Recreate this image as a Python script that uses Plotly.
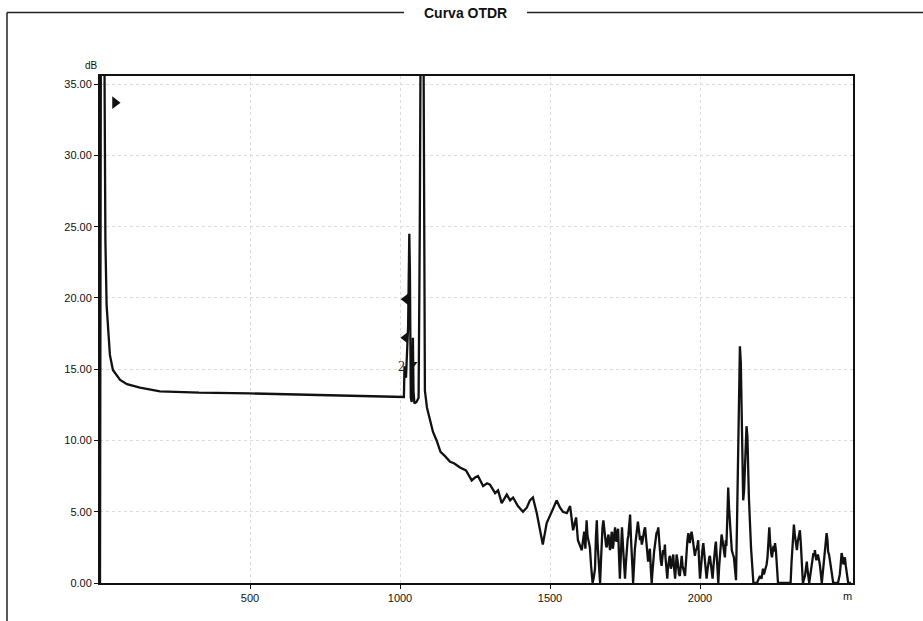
import plotly.graph_objects as go

# ---- data (distance in m, level in dB) ----
launch_m = [0, 3, 14, 18, 22, 27, 33, 43, 55, 67, 90, 133, 200, 330, 500, 600, 700, 760, 850, 930, 1000, 1012]
launch_db = [0, 40, 40, 24, 19.5, 17.5, 16.0, 14.95, 14.6, 14.25, 13.95, 13.7, 13.45, 13.35, 13.3, 13.25, 13.2, 13.15, 13.1, 13.08, 13.05, 13.05]

event_m = [1013, 1015, 1020, 1027, 1031, 1033, 1036, 1039, 1041, 1043, 1045, 1048, 1055, 1062, 1066, 1069, 1078, 1081, 1083, 1090, 1100]
event_db = [13.05, 15.2, 14.4, 18.0, 24.5, 22.0, 13.0, 12.7, 16.5, 17.2, 13.5, 12.6, 12.7, 13.0, 25.0, 40.0, 40.0, 20.0, 13.5, 12.3, 11.4]

decay_m = [1110, 1122, 1135, 1150, 1167, 1180, 1200, 1220, 1239, 1250, 1260, 1277, 1290, 1300, 1317,
           1327, 1339, 1356, 1367, 1377, 1393, 1410, 1423, 1433, 1443, 1456, 1463, 1476, 1489, 1500,
           1510, 1522, 1533, 1543, 1556, 1567, 1577, 1587, 1593, 1606]
decay_db = [10.6, 10.0, 9.2, 8.9, 8.5, 8.4, 8.1, 7.9, 7.2, 7.4, 7.5, 6.8, 7.0, 6.9, 6.3,
            6.5, 5.6, 6.2, 5.8, 6.0, 5.4, 5.0, 5.3, 5.8, 6.0, 4.9, 4.2, 2.7, 4.2, 4.8,
            5.2, 5.8, 5.3, 5.0, 4.9, 5.4, 3.7, 4.6, 3.0, 2.3]

noise_m = [1610, 1614, 1618, 1622, 1625, 1628, 1633, 1637, 1642, 1646, 1650, 1653, 1656, 1659, 1661,
           1664, 1667, 1670, 1672, 1675, 1678, 1681, 1684, 1687, 1689, 1692, 1695, 1698, 1700, 1703,
           1706, 1709, 1711, 1714, 1717, 1720, 1722, 1725, 1727, 1730, 1733, 1737, 1740, 1743, 1745,
           1748, 1750, 1753, 1756, 1759, 1761, 1764, 1767, 1770, 1772, 1775, 1777, 1780, 1783, 1786,
           1788, 1791, 1793, 1797, 1800, 1803, 1806, 1809, 1811, 1814, 1817, 1820, 1822, 1825, 1827,
           1830, 1833, 1836, 1839, 1842, 1844, 1847, 1850, 1853, 1855, 1858, 1861, 1864, 1866, 1869,
           1872, 1875, 1877, 1880, 1883, 1885, 1887, 1889, 1891, 1893, 1895, 1898, 1900, 1903, 1905,
           1908, 1911, 1913, 1914, 1916, 1917, 1920, 1922, 1925, 1927, 1930, 1933, 1936, 1939, 1942,
           1945, 1948, 1950, 1953, 1955, 1958, 1961, 1964, 1966, 1969, 1972, 1975, 1978, 1981, 1983,
           1986, 1989, 1992, 1994, 1997, 2000, 2003, 2005, 2008, 2011, 2014, 2016, 2019, 2022, 2025,
           2028, 2031, 2033, 2036, 2038, 2040, 2042, 2045, 2048, 2051, 2053, 2056, 2058, 2061, 2064,
           2067, 2070, 2072, 2075, 2078, 2081, 2083, 2086, 2088, 2091, 2094, 2097, 2100, 2103, 2106,
           2110, 2113, 2117, 2120, 2124, 2128, 2131, 2133, 2136, 2139, 2144, 2147, 2150, 2155, 2158,
           2163, 2170, 2178, 2190, 2200, 2205, 2210, 2213, 2216, 2219, 2222, 2225, 2227, 2229, 2231,
           2234, 2236, 2238, 2240, 2243, 2245, 2248, 2250, 2253, 2255, 2260, 2280, 2302, 2305, 2308,
           2311, 2313, 2316, 2318, 2321, 2323, 2326, 2328, 2331, 2333, 2336, 2338, 2343, 2350, 2353,
           2356, 2358, 2360, 2364, 2372, 2375, 2378, 2381, 2383, 2386, 2388, 2391, 2393, 2397, 2400,
           2406, 2414, 2418, 2422, 2425, 2427, 2430, 2433, 2436, 2438, 2444, 2460, 2466, 2469, 2472,
           2475, 2478, 2481, 2483, 2486, 2489, 2494, 2503]
noise_db = [3.0, 3.6, 2.4, 4.4, 3.3, 3.0, 2.5, 1.2, 0.0, 0.4, 1.0, 3.2, 4.4, 2.6, 2.0,
            0.8, 0.0, 1.6, 2.8, 3.9, 4.4, 3.5, 3.2, 2.6, 2.5, 3.1, 3.4, 2.7, 2.3, 3.0,
            3.6, 2.4, 2.6, 3.4, 3.9, 3.0, 2.9, 3.6, 3.8, 1.9, 0.3, 2.4, 3.9, 2.7, 2.1,
            0.9, 0.3, 1.4, 2.5, 3.1, 3.3, 4.2, 4.8, 3.1, 2.5, 1.0, 0.0, 1.5, 2.4, 3.0,
            3.5, 3.9, 4.3, 3.6, 3.0, 3.3, 2.7, 3.0, 3.4, 3.7, 3.9, 3.1, 2.6, 2.0, 1.5,
            2.0, 2.4, 1.0, 0.0, 0.9, 1.6, 2.2, 2.7, 3.3, 3.5, 3.6, 3.9, 3.0, 2.0, 1.6,
            1.2, 1.9, 2.3, 2.0, 2.7, 1.8, 1.0, 0.5, 0.3, 1.0, 1.5, 1.8, 1.9, 1.0, 1.2,
            1.8, 2.0, 1.2, 0.8, 0.4, 0.3, 1.2, 2.0, 1.6, 1.0, 0.6, 0.5, 1.4, 1.9, 1.2,
            1.0, 0.7, 0.5, 1.4, 2.2, 3.0, 3.5, 3.2, 2.8, 3.3, 3.6, 3.2, 2.6, 2.2, 1.9,
            2.3, 2.4, 2.7, 3.0, 1.5, 0.3, 1.0, 1.8, 2.3, 2.8, 2.0, 1.3, 0.8, 0.3, 0.9,
            1.6, 1.8, 1.9, 1.4, 1.0, 0.6, 0.3, 1.2, 2.2, 2.6, 2.9, 1.8, 1.4, 0.0, 1.2,
            2.0, 2.8, 3.4, 3.0, 2.5, 2.2, 1.8, 3.0, 2.6, 4.5, 6.7, 5.2, 4.0, 3.0, 2.3,
            2.0, 1.8, 0.9, 0.2, 5.0, 10.5, 14.5, 16.6, 15.5, 12.0, 5.8, 6.5, 8.0, 11.0, 10.3,
            6.0, 2.5, 0.0, 0.0, 0.5, 0.3, 1.0, 0.6, 0.8, 1.1, 1.3, 1.8, 2.4, 3.2, 3.9,
            2.8, 2.2, 2.0, 1.8, 2.4, 2.6, 2.2, 2.8, 2.3, 1.5, 0.0, 0.0, 0.0, 1.4, 2.5,
            3.6, 4.1, 3.4, 3.0, 2.6, 2.3, 2.9, 3.2, 3.5, 3.7, 2.8, 1.8, 0.0, 0.5, 1.0,
            1.5, 1.0, 0.6, 0.0, 1.2, 1.6, 2.1, 1.9, 2.3, 1.8, 1.6, 1.8, 2.0, 1.6, 1.2,
            0.0, 1.5, 2.6, 3.5, 3.0, 2.2, 2.0, 1.6, 1.2, 0.8, 0.0, 0.0, 0.6, 1.3, 2.1,
            1.8, 1.3, 1.6, 1.8, 1.2, 0.7, 0.0, 0.0]

marker_right_m = [50]
marker_right_db = [33.7]
marker_left_m = [1019, 1018]
marker_left_db = [19.9, 17.2]
marker_down_m = [1047]
marker_down_db = [15.4]
label2_m = 1004
label2_db = 15.2

x_ticks = [500, 1000, 1500, 2000]
y_ticks = [0, 5, 10, 15, 20, 25, 30, 35]
y_tick_labels = ["%.2f" % v for v in y_ticks]

# ---- figure ----
dist = launch_m + event_m + decay_m + noise_m
level = launch_db + event_db + decay_db + noise_db

ink = "#111111"
fig = go.Figure()
fig.add_trace(go.Scatter(x=dist, y=level, mode="lines",
                         line=dict(color=ink, width=2.3), showlegend=False,
                         hoverinfo="skip"))
fig.add_trace(go.Scatter(x=marker_right_m, y=marker_right_db, mode="markers",
                         marker=dict(symbol="triangle-right", size=11, color=ink),
                         showlegend=False, hoverinfo="skip"))
fig.add_trace(go.Scatter(x=marker_left_m, y=marker_left_db, mode="markers",
                         marker=dict(symbol="triangle-left", size=10, color=ink),
                         showlegend=False, hoverinfo="skip"))
fig.add_trace(go.Scatter(x=marker_down_m, y=marker_down_db, mode="markers",
                         marker=dict(symbol="triangle-down", size=6, color=ink),
                         showlegend=False, hoverinfo="skip"))

fig.add_annotation(x=label2_m, y=label2_db, text="2", showarrow=False,
                   font=dict(family="Liberation Serif", size=14, color="#222222"))

W, H = 923, 621
L, R, T, B = 100, 70, 76, 38
pw, ph = W - L - R, H - T - B


def px(xp):
    return (xp - L) / pw


def py(yp):
    return (H - B - yp) / ph


# group box frame
frame = dict(color="#222222", width=1.5)
fig.add_shape(type="line", xref="paper", yref="paper", x0=px(7), x1=px(7), y0=py(12.5), y1=py(621), line=frame)
fig.add_shape(type="line", xref="paper", yref="paper", x0=px(7), x1=px(404), y0=py(12.5), y1=py(12.5), line=frame)
fig.add_shape(type="line", xref="paper", yref="paper", x0=px(527), x1=px(923), y0=py(12.5), y1=py(12.5), line=frame)

fig.add_annotation(xref="paper", yref="paper", x=px(465), y=py(13), text="<b>Curva OTDR</b>",
                   xanchor="center", yanchor="middle",
                   showarrow=False, font=dict(family="Liberation Sans", size=14, color=ink))
fig.add_annotation(xref="paper", yref="paper", x=px(91), y=py(66), text="dB",
                   xanchor="center", yanchor="middle",
                   showarrow=False, font=dict(family="Liberation Sans", size=10, color=ink))
fig.add_annotation(xref="paper", yref="paper", x=px(847), y=py(596), text="m",
                   xanchor="center", yanchor="middle",
                   showarrow=False, font=dict(family="Liberation Sans", size=11, color=ink))

fig.update_layout(
    width=W, height=H,
    margin=dict(l=L, r=R, t=T, b=B),
    paper_bgcolor="white", plot_bgcolor="white",
    font=dict(family="Liberation Sans", size=11, color=ink),
)
axis_common = dict(showgrid=True, gridcolor="#dddddd", griddash="dot", gridwidth=1,
                   showline=True, mirror=True, linecolor=ink, linewidth=2,
                   ticks="outside", ticklen=4, tickcolor=ink, zeroline=False,
                   tickfont=dict(family="Liberation Sans", size=11, color=ink))
fig.update_xaxes(range=[0, 2510], tickvals=x_ticks, ticktext=[str(v) for v in x_ticks], **axis_common)
fig.update_yaxes(range=[0, 35.57], tickvals=y_ticks, ticktext=y_tick_labels, **axis_common)

fig.write_html("out.html", config={"displayModeBar": False},
               post_script="document.body.style.margin='0';document.body.style.overflow='hidden';")
